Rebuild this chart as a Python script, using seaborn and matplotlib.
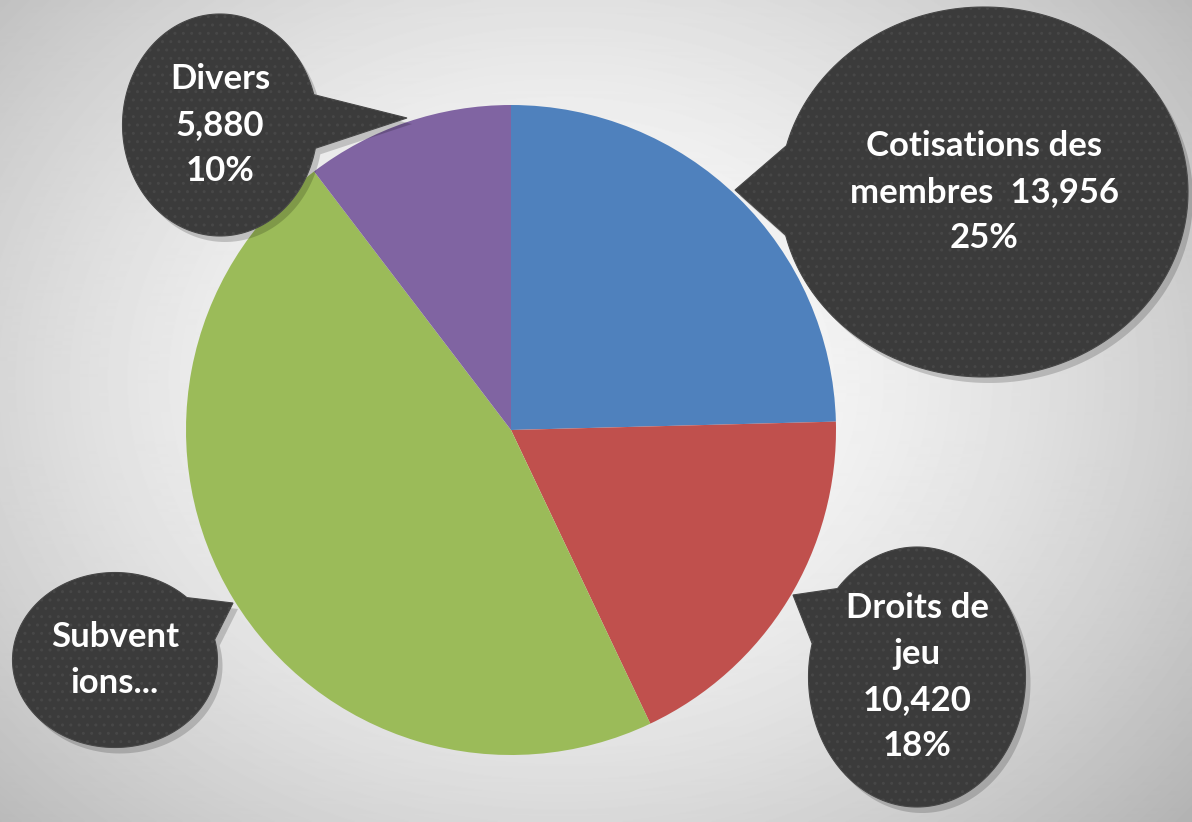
import numpy as np
import matplotlib
matplotlib.use("Agg")
import matplotlib.pyplot as plt
from matplotlib.patches import Polygon
import seaborn as sns

# data
categories = ["Cotisations des membres", "Droits de jeu", "Subventions", "Divers"]
values = [13956, 10420, 26500, 5880]
labels = ["Cotisations des\nmembres  13,956\n25%",
          "Droits de\njeu\n10,420\n18%",
          "Subvent\nions...",
          "Divers\n5,880\n10%"]
colors = sns.color_palette(["#4f81bd", "#c0504d", "#9bbb59", "#8064a2"])

sns.set_theme(style="white")
plt.rcParams["font.family"] = ["Lato", "DejaVu Sans"]
plt.rcParams["hatch.linewidth"] = 1.0

W, H = 1192, 822
fig = plt.figure(figsize=(W / 100, H / 100), dpi=100)

# radial gradient background
bg = fig.add_axes([0, 0, 1, 1])
yy, xx = np.mgrid[0:H, 0:W]
r = np.hypot((xx - 560) / 760, (yy - 380) / 620)
shade = np.clip(1.0 - 0.26 * r ** 1.6, 0, 1)
bg.imshow(shade, cmap="gray", vmin=0, vmax=1, extent=[0, W, 0, H], aspect="auto")
bg.axis("off")

ax = fig.add_axes([0, 0, 1, 1])
ax.patch.set_alpha(0)

cx, cy, R = 511, 392, 325
wedges, _ = ax.pie(values, colors=colors, startangle=90, counterclock=False,
                   center=(cx, cy), radius=R, frame=True,
                   wedgeprops=dict(linewidth=0))
ax.set_xlim(0, W)
ax.set_ylim(0, H)
ax.set_aspect("equal")
ax.axis("off")


def bubble(bx, by, w, h, tip, spread, text, fs):
    tx, ty = tip
    th = np.arctan2((ty - by) / (h / 2), (tx - bx) / (w / 2))
    s = np.radians(spread)
    t = np.linspace(th + s, th + 2 * np.pi - s, 200)
    pts = np.column_stack([bx + w / 2 * np.cos(t), by + h / 2 * np.sin(t)])
    pts = np.vstack([pts, [tx, ty]])
    shadow = Polygon(pts + [5, -6], closed=True, facecolor="#000000",
                     alpha=0.18, linewidth=0, zorder=4)
    ax.add_patch(shadow)
    body = Polygon(pts, closed=True, facecolor="#3b3b3b", edgecolor="#474747",
                   hatch="..", linewidth=0.8, zorder=5)
    ax.add_patch(body)
    ax.text(bx, by, text, ha="center", va="center", color="white",
            fontsize=fs, fontweight="bold", linespacing=1.55, zorder=6)


bubble(984, H - 192, 408, 370, (735, H - 190), 14, labels[0], 25)
bubble(917, H - 677, 217, 260, (793, H - 595), 14, labels[1], 25)
bubble(115, H - 660, 205, 175, (233, H - 603), 16, labels[2], 25)
bubble(220, H - 125, 195, 222, (407, H - 118), 14, labels[3], 25)

fig.savefig("out.png", dpi=100)
